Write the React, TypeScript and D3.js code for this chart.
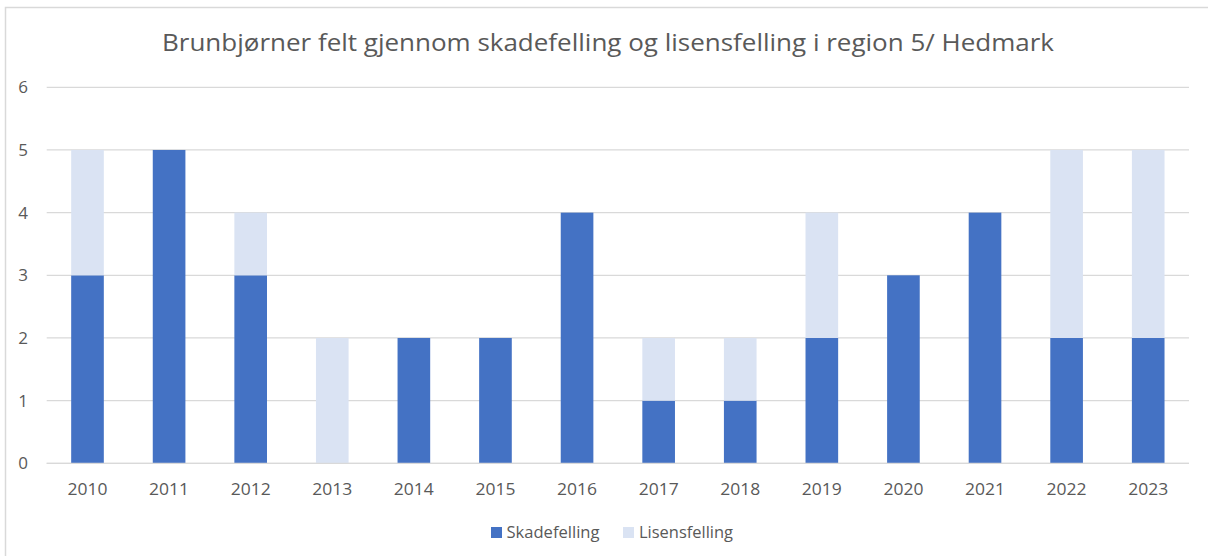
import React from "react";
import * as d3 from "d3";

const years = ["2010","2011","2012","2013","2014","2015","2016","2017","2018","2019","2020","2021","2022","2023"];
const skadefelling = [3,5,3,0,2,2,4,1,1,2,3,4,2,2];
const lisensfelling = [2,0,1,2,0,0,0,1,1,2,0,0,3,3];
const yTicks = [0,1,2,3,4,5,6];
const seriesNames = ["Skadefelling","Lisensfelling"];
const colors = ["#4472C4","#DAE3F3"];
const title = "Brunbjørner felt gjennom skadefelling og lisensfelling i region 5/ Hedmark";

const W = 1208, H = 556;
const plot = { left: 46.7, right: 1189, top: 87.3, bottom: 463.3 };
const FONT = "'Open Sans', 'Noto Sans', sans-serif";

export default function App() {
  const x = d3.scaleBand<string>().domain(years).range([plot.left, plot.right]).paddingInner(0.6).paddingOuter(0.3);
  const y = d3.scaleLinear().domain([0, 6]).range([plot.bottom, plot.top]);
  const rows = years.map((yr, i) => ({ year: yr, Skadefelling: skadefelling[i], Lisensfelling: lisensfelling[i] }));
  const stack = d3.stack<any>().keys(seriesNames)(rows);

  return (
    <svg width={W} height={H} style={{ position: "absolute", left: 0, top: 0, background: "#fff" }} fontFamily={FONT}>
      <rect x={0} y={0} width={W} height={H} fill="#fff" />
      <rect x={5.5} y={7.5} width={1210} height={560} fill="none" stroke="#D9D9D9" strokeWidth={1.5} />
      <text x={162} y={50.7} fontSize={24} fill="#595959" textLength={892} lengthAdjust="spacingAndGlyphs">{title}</text>
      {yTicks.map(t => (
        <g key={t}>
          <line x1={plot.left} x2={plot.right} y1={y(t)} y2={y(t)} stroke="#D9D9D9" strokeWidth={1.3} />
          <text x={28} y={y(t)} dy="0.35em" textAnchor="end" fontSize={17} fill="#595959">{t}</text>
        </g>
      ))}
      {stack.map((s, si) => (
        <g key={s.key} fill={colors[si]}>
          {s.map((d, i) => d[1] - d[0] > 0 ? (
            <rect key={i} x={x(years[i])} width={x.bandwidth()} y={y(d[1])} height={y(d[0]) - y(d[1])} />
          ) : null)}
        </g>
      ))}
      <line x1={plot.left} x2={plot.right} y1={y(0)} y2={y(0)} stroke="#D9D9D9" strokeWidth={1.3} />
      {years.map(yr => (
        <text key={yr} x={(x(yr) as number) + x.bandwidth() / 2} y={495} textAnchor="middle" fontSize={17} fill="#595959" textLength={40} lengthAdjust="spacingAndGlyphs">{yr}</text>
      ))}
      <g>
        <rect x={491} y={527} width={11} height={11} fill={colors[0]} />
        <text x={506.5} y={538} fontSize={17} fill="#595959" textLength={93} lengthAdjust="spacingAndGlyphs">{seriesNames[0]}</text>
        <rect x={623} y={527} width={11} height={11} fill={colors[1]} />
        <text x={639} y={538} fontSize={17} fill="#595959" textLength={94} lengthAdjust="spacingAndGlyphs">{seriesNames[1]}</text>
      </g>
    </svg>
  );
}
